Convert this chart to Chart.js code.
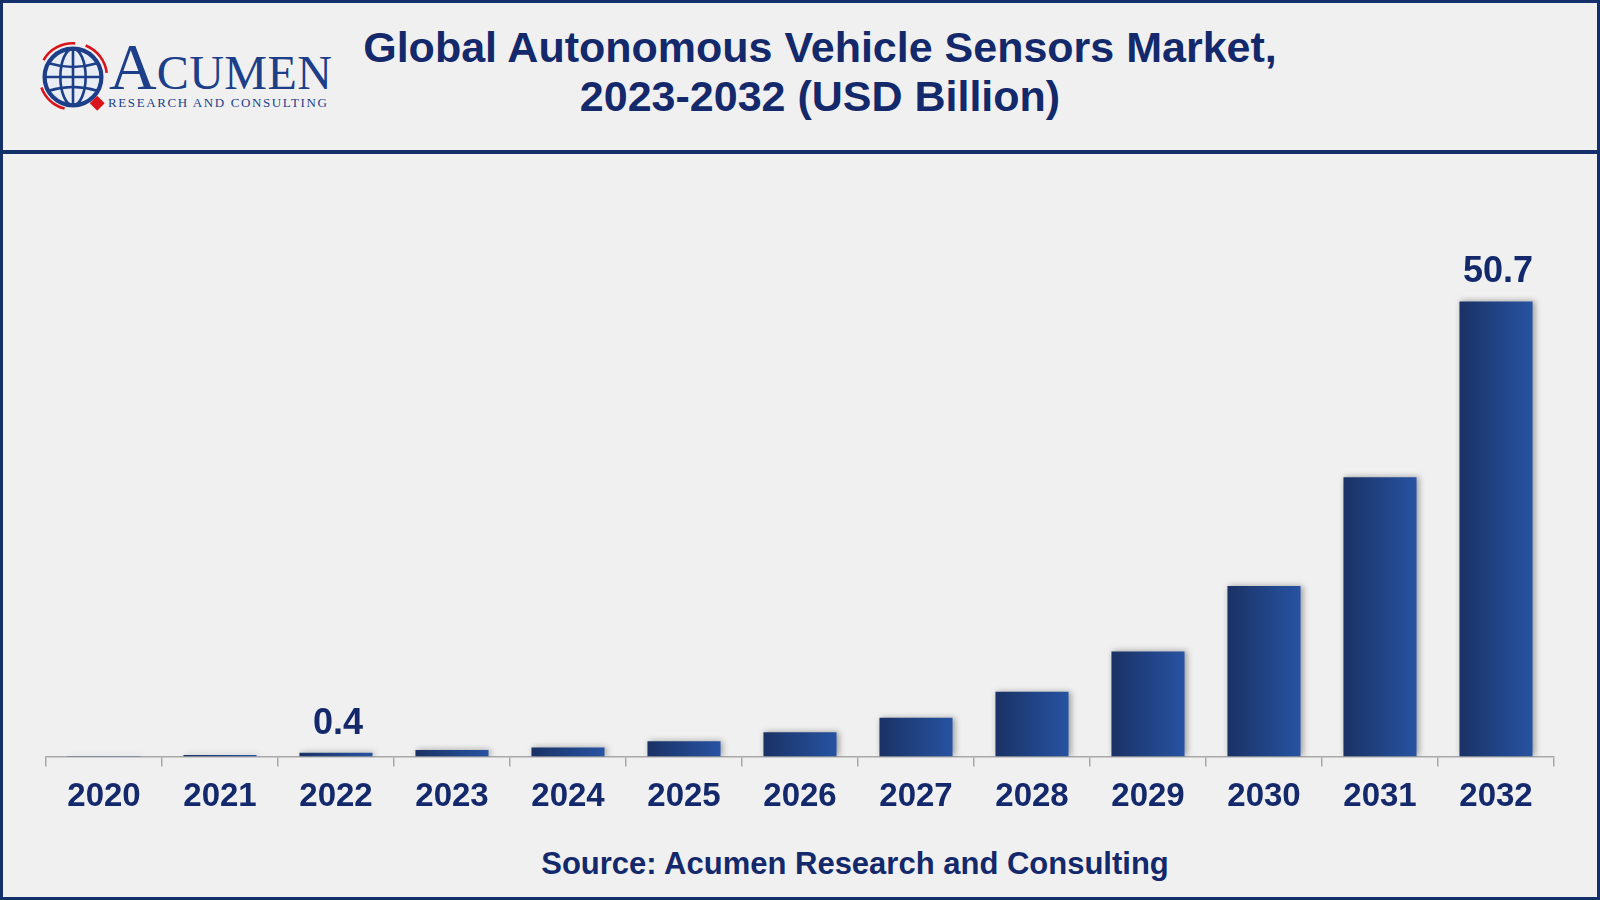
<!DOCTYPE html>
<html>
<head>
<meta charset="utf-8">
<script src="https://cdn.jsdelivr.net/npm/chart.js@4.4.1/dist/chart.umd.min.js"></script>
<style>
  html, body { margin: 0; padding: 0; background: #f0f0f0; }
  #page {
    position: relative; width: 1600px; height: 900px; box-sizing: border-box;
    border: 3px solid #14306b; background: #f0f0f0; overflow: hidden;
    font-family: "Liberation Sans", Arial, sans-serif;
  }
  #headerLine { position: absolute; left: 0; top: 147px; width: 1600px; height: 4px; background: #14306b; }
  #logo { position: absolute; left: 30px; top: 34px; width: 340px; height: 80px; }
  #logo svg { position: absolute; left: 0; top: 0; }
  #brand { position: absolute; left: 76px; top: -8px; color: #1d3f8a; font-family: "Liberation Serif", "DejaVu Serif", serif; white-space: nowrap; }
  #brand .big { font-size: 66px; }
  #brand .small { font-size: 48px; letter-spacing: 0.5px; }
  #tagline { position: absolute; left: 75px; top: 58px; color: #1d3f8a; font-family: "Liberation Serif", serif; font-size: 13px; letter-spacing: 1.6px; white-space: nowrap; }
  #title {
    position: absolute; left: 317px; top: 20px; width: 1000px; text-align: center;
    color: #13296b; font-weight: bold; font-size: 43px; line-height: 49px;
  }
  #source {
    position: absolute; left: 352px; top: 843px; width: 1000px; text-align: center;
    color: #13296b; font-weight: bold; font-size: 31px;
  }
  #chartBox { position: absolute; left: -3px; top: 152px; width: 1597px; height: 673px; }
</style>
</head>
<body>
<div id="page">
  <div id="logo">
    <svg width="80" height="80" viewBox="0 0 76 76">
      <g fill="none" stroke="#d9141b" stroke-width="2.5">
        <path d="M10 22 A32 32 0 0 1 40 6" />
        <path d="M50 8 A32 32 0 0 1 70 34" />
        <path d="M8 48 A32 32 0 0 0 30 68" />
      </g>
      <circle cx="38" cy="38" r="27" fill="#e8ecf5" stroke="#1d3f8a" stroke-width="4"/>
      <g fill="none" stroke="#1d3f8a" stroke-width="2.5">
        <ellipse cx="38" cy="38" rx="12" ry="27"/>
        <line x1="38" y1="11" x2="38" y2="65"/>
        <line x1="11" y1="38" x2="65" y2="38"/>
        <path d="M15 25 Q38 32 61 25"/>
        <path d="M15 51 Q38 44 61 51"/>
      </g>
      <rect x="56" y="58" width="10" height="10" fill="#d9141b" transform="rotate(45 61 63)"/>
    </svg>
    <div id="brand"><span class="big">A</span><span class="small">CUMEN</span></div>
    <div id="tagline">RESEARCH AND CONSULTING</div>
  </div>
  <div id="title">Global Autonomous Vehicle Sensors Market,<br>2023-2032 (USD Billion)</div>
  <div id="headerLine"></div>
  <div id="chartBox"><canvas id="marketChart"></canvas></div>
  <div id="source">Source: Acumen Research and Consulting</div>
</div>

<script>
// Valores (USD bilhões)
const years = ['2020', '2021', '2022', '2023', '2024', '2025', '2026', '2027', '2028', '2029', '2030', '2031', '2032'];
const marketValues = [0.05, 0.15, 0.4, 0.7, 1.0, 1.7, 2.7, 4.3, 7.2, 11.7, 19.0, 31.1, 50.7];
const labelledYears = ['2022', '2032'];

const navy = '#13296b';
const barPct = 0.63;

// Gradiente horizontal em cada barra
function barGradient(context) {
    const chart = context.chart;
    const xScale = chart.scales.x;
    if (!chart.chartArea || !xScale) return '#223f85';
    const center = xScale.getPixelForValue(context.dataIndex);
    const half = (chart.chartArea.width / years.length) * barPct / 2;
    const g = chart.ctx.createLinearGradient(center - half, 0, center + half, 0);
    g.addColorStop(0, '#1a3265');
    g.addColorStop(1, '#2753a2');
    return g;
}

const barShadow = {
    id: 'barShadow',
    beforeDatasetsDraw(chart) {
        const ctx = chart.ctx;
        ctx.save();
        ctx.shadowColor = 'rgba(0, 0, 0, 0.35)';
        ctx.shadowBlur = 6;
        ctx.shadowOffsetX = 2;
        ctx.shadowOffsetY = 0;
    },
    afterDatasetsDraw(chart) {
        chart.ctx.restore();
    }
};

const valueLabels = {
    id: 'valueLabels',
    afterDatasetsDraw(chart) {
        const ctx = chart.ctx;
        const meta = chart.getDatasetMeta(0);
        ctx.save();
        ctx.font = 'bold 36px "Liberation Sans", Arial, sans-serif';
        ctx.fillStyle = navy;
        ctx.textAlign = 'center';
        ctx.textBaseline = 'bottom';
        meta.data.forEach((bar, i) => {
            if (labelledYears.includes(years[i])) {
                ctx.fillText(String(marketValues[i]), bar.x + 2, bar.y - 11);
            }
        });
        ctx.restore();
    }
};

const marketCtx = document.getElementById('marketChart').getContext('2d');
new Chart(marketCtx, {
    type: 'bar',
    data: {
        labels: years,
        datasets: [{
            label: 'Market size',
            data: marketValues,
            backgroundColor: barGradient,
            borderWidth: 0,
            barPercentage: barPct,
            categoryPercentage: 1
        }]
    },
    plugins: [barShadow, valueLabels],
    options: {
        responsive: true,
        maintainAspectRatio: false,
        animation: false,
        layout: { padding: { top: 45, left: 46, right: 43, bottom: 0 } },
        plugins: {
            legend: { display: false },
            tooltip: { enabled: false }
        },
        scales: {
            y: {
                display: false,
                min: 0,
                max: 62
            },
            x: {
                border: { display: true, color: '#a8a8a8', width: 1.5 },
                grid: {
                    drawOnChartArea: false,
                    drawTicks: true,
                    tickLength: 10,
                    color: '#a8a8a8',
                    lineWidth: 1.5,
                    offset: true
                },
                ticks: {
                    color: navy,
                    padding: 11,
                    font: { family: '"Liberation Sans", Arial, sans-serif', size: 33, weight: 'bold' }
                }
            }
        }
    }
});
</script>
</body>
</html>
